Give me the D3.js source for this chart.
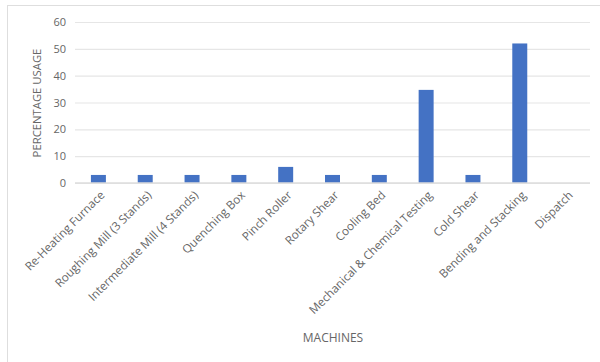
<!DOCTYPE html>
<html>
<head>
<meta charset="utf-8">
<script src="https://cdn.jsdelivr.net/npm/d3@7"></script>
<style>
  body { margin: 0; background: #fff; }
  svg text { font-family: "Open Sans", "Liberation Sans", sans-serif; fill: #666666; }
</style>
</head>
<body>
<div id="chart"></div>
<script>
// chart data
const machines = [
  "Re-Heating Furnace",
  "Roughing Mill (3 Stands)",
  "Intermediate Mill (4 Stands)",
  "Quenching Box",
  "Pinch Roller",
  "Rotary Shear",
  "Cooling Bed",
  "Mechanical & Chemical Testing",
  "Cold Shear",
  "Bending and Stacking",
  "Dispatch"
];
const usage = [3, 3, 3, 3, 6, 3, 3, 34.7, 3, 52, 0];
const yTicks = [0, 10, 20, 30, 40, 50, 60];

const W = 600, H = 362;
const margin = { top: 22, left: 75 },
  width = 590 - margin.left,
  height = 183 - margin.top;

const root = d3.select("#chart").append("svg")
  .attr("width", W).attr("height", H)
  .style("color", "#666666");

// outer chart border
root.append("rect")
  .attr("x", 7.5).attr("y", 5.5)
  .attr("width", 620).attr("height", 400)
  .attr("fill", "none").attr("stroke", "#dedede");

const svg = root.append("g")
  .attr("transform", `translate(${margin.left},${margin.top})`);

const x = d3.scaleBand().domain(machines).range([0, width]).paddingInner(0.68).paddingOuter(0.34);
const y = d3.scaleLinear().domain([0, 60]).range([height, 0]);

// gridlines
svg.append("g")
  .call(d3.axisLeft(y).tickValues(yTicks).tickSize(-width).tickFormat(""))
  .call(g => g.select(".domain").remove())
  .call(g => g.selectAll("line").attr("stroke", "#e6e6e6").attr("stroke-width", 1.2));

// y axis labels
svg.append("g")
  .call(d3.axisLeft(y).tickValues(yTicks).tickSize(0).tickPadding(9))
  .call(g => g.select(".domain").remove())
  .call(g => g.selectAll("text").attr("font-size", 11));

// bars
svg.selectAll("rect.bar")
  .data(usage)
  .enter()
  .append("rect")
  .attr("class", "bar")
  .attr("x", (d, i) => x(machines[i]))
  .attr("width", x.bandwidth())
  .attr("y", d => y(d))
  .attr("height", d => height - y(d))
  .attr("fill", "#4472c4");

// x axis line
svg.append("line")
  .attr("x1", 0).attr("x2", width)
  .attr("y1", height).attr("y2", height)
  .attr("stroke", "#dcdcdc").attr("stroke-width", 1.5);

// x labels rotated
svg.append("g")
  .attr("transform", `translate(0,${height})`)
  .call(d3.axisBottom(x).tickSize(0).tickPadding(0))
  .call(g => g.select(".domain").remove())
  .call(g => g.selectAll("text")
    .attr("font-size", 11.7)
    .attr("text-anchor", "end")
    .attr("dy", "0.35em")
    .attr("transform", "translate(4,10) rotate(-45)"));

// axis titles
root.append("text")
  .attr("transform", `translate(37,103) rotate(-90)`)
  .attr("text-anchor", "middle")
  .attr("dy", "0.35em")
  .attr("font-size", 11.3)
  .text("PERCENTAGE USAGE");

root.append("text")
  .attr("x", 333).attr("y", 338)
  .attr("text-anchor", "middle")
  .attr("dy", "0.35em")
  .attr("font-size", 12)
  .text("MACHINES");
</script>
</body>
</html>
